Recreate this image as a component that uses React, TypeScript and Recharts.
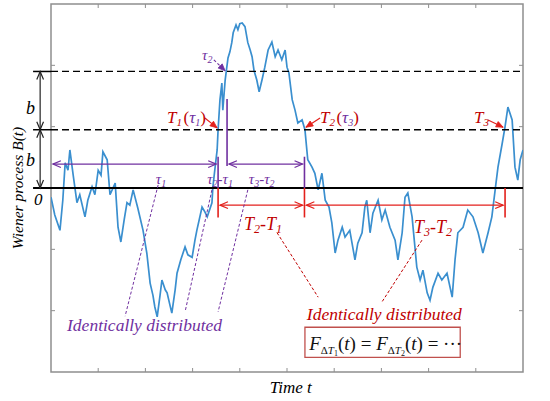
import React from 'react'
import { LineChart, Line, XAxis, YAxis, ReferenceLine, ReferenceDot, ReferenceArea } from 'recharts'

const times = [
  0.00, 0.08, 0.19, 0.25, 0.30, 0.36, 0.40, 0.47, 0.55, 0.61, 0.72, 0.78, 0.87, 0.93, 1.00, 1.06, 1.10, 1.19, 1.25, 1.36,
  1.42, 1.48, 1.55, 1.61, 1.67, 1.74, 1.84, 1.95, 2.03, 2.10, 2.16, 2.20, 2.25, 2.31, 2.35, 2.42, 2.46, 2.52, 2.56, 2.63,
  2.67, 2.75, 2.84, 2.90, 2.99, 3.05, 3.09, 3.20, 3.26, 3.31, 3.41, 3.43, 3.47, 3.52, 3.54, 3.58, 3.62, 3.64, 3.69, 3.71,
  3.75, 3.79, 3.83, 3.86, 3.92, 3.96, 4.00, 4.05, 4.11, 4.17, 4.22, 4.26, 4.30, 4.36, 4.41, 4.47, 4.53, 4.60, 4.68, 4.75,
  4.81, 4.89, 4.96, 5.00, 5.04, 5.11, 5.17, 5.23, 5.32, 5.38, 5.44, 5.53, 5.59, 5.66, 5.74, 5.81, 5.89, 5.95, 6.02, 6.08,
  6.17, 6.23, 6.33, 6.44, 6.50, 6.59, 6.65, 6.69, 6.76, 6.82, 6.93, 7.01, 7.08, 7.18, 7.29, 7.35, 7.44, 7.50, 7.56, 7.65,
  7.75, 7.82, 7.88, 7.97, 8.03, 8.09, 8.20, 8.28, 8.39, 8.50, 8.56, 8.62, 8.73, 8.83, 8.94, 9.05, 9.15, 9.26, 9.34, 9.41,
  9.47, 9.56, 9.62, 9.68, 9.77, 9.83, 9.89, 9.94, 10.00,
]
const wiener = [
  -0.15, -0.44, -0.69, -0.20, 0.41, 0.29, 0.62, 0.21, -0.24, -0.11, -0.47, -0.20, 0.02, -0.11, 0.29, 0.21, 0.59, 0.46, -0.11, 0.08,
  -0.64, -0.88, -0.52, -0.24, -0.28, -0.03, -0.33, -0.69, -1.06, -1.55, -1.75, -1.94, -2.10, -1.75, -1.50, -1.66, -1.71, -1.91, -2.04, -1.66,
  -1.39, -1.17, -0.96, -1.09, -1.13, -0.85, -0.69, -0.31, -0.39, -0.47, -0.24, 0.02, 0.29, 0.62, 0.95, 1.44, 1.71, 1.27, 1.76, 1.88,
  2.12, 2.22, 2.37, 2.53, 2.66, 2.58, 2.68, 2.69, 2.63, 2.37, 2.25, 2.14, 1.92, 1.76, 1.57, 1.76, 1.97, 2.25, 2.38, 2.14,
  2.25, 2.09, 2.25, 1.97, 1.88, 1.44, 1.27, 1.06, 1.11, 0.95, 0.46, 0.34, 0.24, -0.03, 0.24, -0.20, -0.31, -0.57, -1.06, -0.85,
  -0.64, -0.80, -0.69, -1.17, -0.90, -0.73, -0.31, -0.20, -0.73, -0.41, -0.20, -0.52, -0.36, -0.64, -0.85, -1.17, -0.73, -0.15, -0.08, -0.47,
  -1.29, -1.50, -1.34, -1.71, -1.83, -1.62, -1.39, -1.50, -1.39, -1.78, -1.17, -0.73, -0.64, -0.36, -0.47, -0.73, -1.06, -0.73, -0.47, -0.03,
  0.34, 0.73, 1.00, 1.32, 1.11, 0.34, 0.13, 0.46, 0.62,
]

const xTicks = [1, 2, 3, 4, 5, 6, 7, 8, 9]
const yTicks = [-2, -1, 1, 2]

// level b and hitting times
const B_LEVEL = 0.95
const T1 = 3.54
const TAU2 = 3.73
const T2 = 5.37
const T3 = 9.62

const data = times.map((t, i) => ({ t, B: wiener[i] }))

const BLUE = '#3a8fcf'
const PURPLE = '#7030a0'
const RED = '#e3211c'
const DARKRED = '#c00000'
const SERIF = '"Liberation Serif", "Times New Roman", serif'

function head(x: number, y: number, ux: number, uy: number, color: string, filled: boolean, size = 8) {
  const bx = x - ux * size, by = y - uy * size
  const px = -uy * size * 0.42, py = ux * size * 0.42
  const pts = `${bx + px},${by + py} ${x},${y} ${bx - px},${by - py}`
  return filled
    ? <polygon points={pts} fill={color} stroke={color} strokeWidth={0.8} />
    : <polyline points={pts} fill="none" stroke={color} strokeWidth={1.2} />
}

function arrow(color: string, o: { start?: boolean, end?: boolean, dash?: string, width?: number, filled?: boolean, size?: number } = {}) {
  return (p: any) => {
    const { x1, y1, x2, y2 } = p
    const len = Math.hypot(x2 - x1, y2 - y1) || 1
    const ux = (x2 - x1) / len, uy = (y2 - y1) / len
    return (
      <g>
        <line x1={x1} y1={y1} x2={x2} y2={y2} stroke={color} strokeWidth={o.width ?? 1.3} strokeDasharray={o.dash} />
        {o.end && head(x2, y2, ux, uy, color, !!o.filled, o.size)}
        {o.start && head(x1, y1, -ux, -uy, color, !!o.filled, o.size)}
      </g>
    )
  }
}

const seg = (key: string, a: [number, number], b: [number, number], shape: any) => (
  <ReferenceLine key={key} segment={[{ x: a[0], y: a[1] }, { x: b[0], y: b[1] }]} ifOverflow="visible" shape={shape} />
)

const txt = (key: string, x: number, y: number, content: React.ReactNode, props: any = {}) => {
  const { rotate, ...rest } = props
  return (
    <ReferenceDot key={key} x={x} y={y} r={0} ifOverflow="visible"
      shape={(p: any) => (
        <text x={p.cx} y={p.cy} fontFamily={SERIF} fontStyle="italic" fontSize={16} {...rest}
          transform={rotate ? `rotate(${rotate}, ${p.cx}, ${p.cy})` : undefined}>{content}</text>
      )} />
  )
}

const tick = (key: string, x: number, y: number, dx: number, dy: number) => (
  <ReferenceDot key={key} x={x} y={y} r={0} ifOverflow="visible"
    shape={(p: any) => <line x1={p.cx} y1={p.cy} x2={p.cx + dx} y2={p.cy + dy} stroke="#8f8f8f" strokeWidth={1} />} />
)

const sub = (s: string, size = 10, shift = 4) => [
  <tspan key="a" dy={shift} fontSize={size}>{s}</tspan>,
  <tspan key="b" dy={-shift}>{'\u200A'}</tspan>,
]

export default function App() {
  return (
    <div style={{ position: 'absolute', left: 0, top: 0, width: 550, height: 401, background: '#fff' }}>
      <LineChart width={550} height={401} data={data} margin={{ top: 4, right: 27, bottom: 29, left: 51 }}>
        <XAxis hide type="number" dataKey="t" domain={[0, 10]} allowDataOverflow />
        <YAxis hide type="number" domain={[-3, 3]} allowDataOverflow />
        <ReferenceArea x1={0} x2={10} y1={-3} y2={3} fill="none" stroke="#8f8f8f" strokeWidth={1.5} ifOverflow="visible" />
        {xTicks.map(t => tick('bt' + t, t, -3, 0, -4))}
        {xTicks.map(t => tick('tt' + t, t, 3, 0, 4))}
        {yTicks.map(v => tick('ly' + v, 0, v, 4, 0))}
        {yTicks.map(v => tick('ry' + v, 10, v, -4, 0))}

        <Line dataKey="B" stroke={BLUE} strokeWidth={1.7} dot={false} isAnimationActive={false} />

        {/* level lines */}
        {seg('zero', [-0.38, 0], [10, 0], arrow('#000', { width: 2 }))}
        {seg('b1', [0, B_LEVEL], [10, B_LEVEL], arrow('#000', { dash: '7 4', width: 1.3 }))}
        {seg('b2', [0, 2 * B_LEVEL], [10, 2 * B_LEVEL], arrow('#000', { dash: '7 4', width: 1.3 }))}
        {seg('b1l', [-0.38, B_LEVEL], [0, B_LEVEL], arrow('#000', { width: 1.5 }))}
        {seg('b2l', [-0.38, 2 * B_LEVEL], [0, 2 * B_LEVEL], arrow('#000', { width: 1.5 }))}
        {seg('ba1', [-0.23, 0], [-0.23, B_LEVEL], arrow('#222', { start: true, end: true, width: 1.2 }))}
        {seg('ba2', [-0.23, B_LEVEL], [-0.23, 2 * B_LEVEL], arrow('#222', { start: true, end: true, width: 1.2 }))}

        {/* verticals */}
        {seg('pv1', [T1, 0.51], [T1, 0], arrow(PURPLE, { width: 1.6 }))}
        {seg('pv2', [TAU2, 1.45], [TAU2, 0.36], arrow(PURPLE, { width: 1.6 }))}
        {seg('pv3', [T2, 0.51], [T2, 0], arrow(PURPLE, { width: 1.6 }))}
        {seg('rv1', [T1, 0], [T1, -0.48], arrow(RED, { width: 1.6 }))}
        {seg('rv2', [T2, 0], [T2, -0.48], arrow(RED, { width: 1.6 }))}
        {seg('rv3', [T3, 0], [T3, -0.48], arrow(RED, { width: 1.6 }))}

        {/* interval arrows */}
        {seg('pa1', [0.04, 0.39], [T1 - 0.04, 0.39], arrow(PURPLE, { start: true, end: true, width: 1.2 }))}
        {seg('pa2', [TAU2 + 0.04, 0.39], [T2 - 0.04, 0.39], arrow(PURPLE, { start: true, end: true, width: 1.2 }))}
        {seg('ra1', [T1 + 0.04, -0.28], [T2 - 0.04, -0.28], arrow(RED, { start: true, end: true, width: 1.2 }))}
        {seg('ra2', [T2 + 0.04, -0.28], [T3 - 0.04, -0.28], arrow(RED, { start: true, end: true, width: 1.2 }))}

        {/* callouts */}
        {seg('c1', [3.26, 1.14], [T1 - 0.02, 0.98], arrow(RED, { end: true, filled: true, width: 1.2, size: 7 }))}
        {seg('c2', [3.45, 2.09], [3.69, 1.91], arrow(PURPLE, { end: true, filled: true, dash: '3 2', width: 1.1, size: 7 }))}
        {seg('c3', [5.70, 1.14], [T2 + 0.03, 0.99], arrow(RED, { end: true, filled: true, width: 1.2, size: 7 }))}
        {seg('c4', [9.26, 1.11], [T3 - 0.04, 0.99], arrow(RED, { end: true, filled: true, width: 1.2, size: 7 }))}

        {/* dashed leaders */}
        {seg('d1', [2.27, 0.05], [1.57, -2.09], arrow(PURPLE, { dash: '3 2', width: 1 }))}
        {seg('d2', [3.41, -0.03], [2.84, -2.02], arrow(PURPLE, { dash: '3 2', width: 1 }))}
        {seg('d3', [4.17, -0.03], [3.54, -2.02], arrow(PURPLE, { dash: '3 2', width: 1 }))}
        {seg('d4', [4.79, -0.73], [5.66, -1.78], arrow(DARKRED, { dash: '3 2', width: 1 }))}
        {seg('d5', [7.86, -0.85], [7.01, -1.86], arrow(DARKRED, { dash: '3 2', width: 1 }))}

        <ReferenceArea x1={5.38} x2={8.67} y1={-2.76} y2={-2.27} fill="#fff" fillOpacity={1} stroke="#c0504d" strokeWidth={1.3} ifOverflow="visible" />

        {/* labels */}
        {txt('lT1', 2.46, 1.06, [<tspan key="t">T</tspan>, ...sub('1', 11, 3), <tspan key="p" fontStyle="normal">(</tspan>, <tspan key="u" fill={PURPLE}>τ</tspan>, <tspan key="s" fill={PURPLE} dy={3} fontSize={10}>1</tspan>, <tspan key="q" dy={-3} fontStyle="normal">)</tspan>], { fill: DARKRED, fontSize: 17 })}
        {txt('lt2', 3.20, 2.09, ['τ', ...sub('2', 10, 3)], { fill: PURPLE, fontSize: 15 })}
        {txt('lT2', 5.70, 1.06, [<tspan key="t">T</tspan>, ...sub('2', 11, 3), <tspan key="p" fontStyle="normal">(</tspan>, <tspan key="u" fill={PURPLE}>τ</tspan>, <tspan key="s" fill={PURPLE} dy={3} fontSize={10}>3</tspan>, <tspan key="q" dy={-3} fontStyle="normal">)</tspan>], { fill: DARKRED, fontSize: 17 })}
        {txt('lT3', 8.96, 1.06, ['T', ...sub('3', 11, 3)], { fill: DARKRED, fontSize: 17 })}
        {txt('lp1', 2.22, 0.07, ['τ', ...sub('1', 10, 3)], { fill: PURPLE, fontSize: 15 })}
        {txt('lp2', 3.31, 0.07, [<tspan key="a">τ</tspan>, <tspan key="b" dy={3} fontSize={10}>2</tspan>, <tspan key="c" dy={-3}>-τ</tspan>, <tspan key="d" dy={3} fontSize={10}>1</tspan>], { fill: PURPLE, fontSize: 15 })}
        {txt('lp3', 4.19, 0.07, [<tspan key="a">τ</tspan>, <tspan key="b" dy={3} fontSize={10}>3</tspan>, <tspan key="c" dy={-3}>-τ</tspan>, <tspan key="d" dy={3} fontSize={10}>2</tspan>], { fill: PURPLE, fontSize: 15 })}
        {txt('lr1', 4.09, -0.69, [<tspan key="a">T</tspan>, <tspan key="b" dy={3} fontSize={12}>2</tspan>, <tspan key="c" dy={-3}>-T</tspan>, <tspan key="d" dy={3} fontSize={12}>1</tspan>], { fill: DARKRED, fontSize: 18 })}
        {txt('lr2', 7.69, -0.73, [<tspan key="a">T</tspan>, <tspan key="b" dy={3} fontSize={12}>3</tspan>, <tspan key="c" dy={-3}>-T</tspan>, <tspan key="d" dy={3} fontSize={12}>2</tspan>], { fill: DARKRED, fontSize: 18 })}
        {txt('id1', 0.34, -2.33, 'Identically distributed', { fill: PURPLE, fontSize: 17.5 })}
        {txt('id2', 5.42, -2.15, 'Identically distributed', { fill: DARKRED, fontSize: 17.5 })}
        {txt('f', 5.47, -2.64, [
          <tspan key="a">F</tspan>, <tspan key="b" dy={4} fontSize={11} fontStyle="normal">Δ</tspan>, <tspan key="c" fontSize={11}>T</tspan>, <tspan key="d" dy={2} fontSize={8} fontStyle="normal">1</tspan>,
          <tspan key="e" dy={-6} fontStyle="normal">(</tspan>, <tspan key="f">t</tspan>, <tspan key="g" fontStyle="normal">) = </tspan>,
          <tspan key="h">F</tspan>, <tspan key="i" dy={4} fontSize={11} fontStyle="normal">Δ</tspan>, <tspan key="j" fontSize={11}>T</tspan>, <tspan key="k" dy={2} fontSize={8} fontStyle="normal">2</tspan>,
          <tspan key="l" dy={-6} fontStyle="normal">(</tspan>, <tspan key="m">t</tspan>, <tspan key="n" fontStyle="normal">) = ···</tspan>,
        ], { fill: '#111', fontSize: 19 })}
        {txt('bu', -0.53, 1.21, 'b', { fill: '#000', fontSize: 18 })}
        {txt('bl', -0.53, 0.36, 'b', { fill: '#000', fontSize: 18 })}
        {txt('z', -0.36, -0.28, '0', { fill: '#000', fontSize: 17 })}
        {txt('yt', -0.6, 0.0, 'Wiener process B(t)', { fill: '#000', fontSize: 15.5, textAnchor: 'middle', rotate: -90 })}
        {txt('xt', 5.08, -3.34, 'Time t', { fill: '#000', fontSize: 17, textAnchor: 'middle' })}
      </LineChart>
    </div>
  )
}
